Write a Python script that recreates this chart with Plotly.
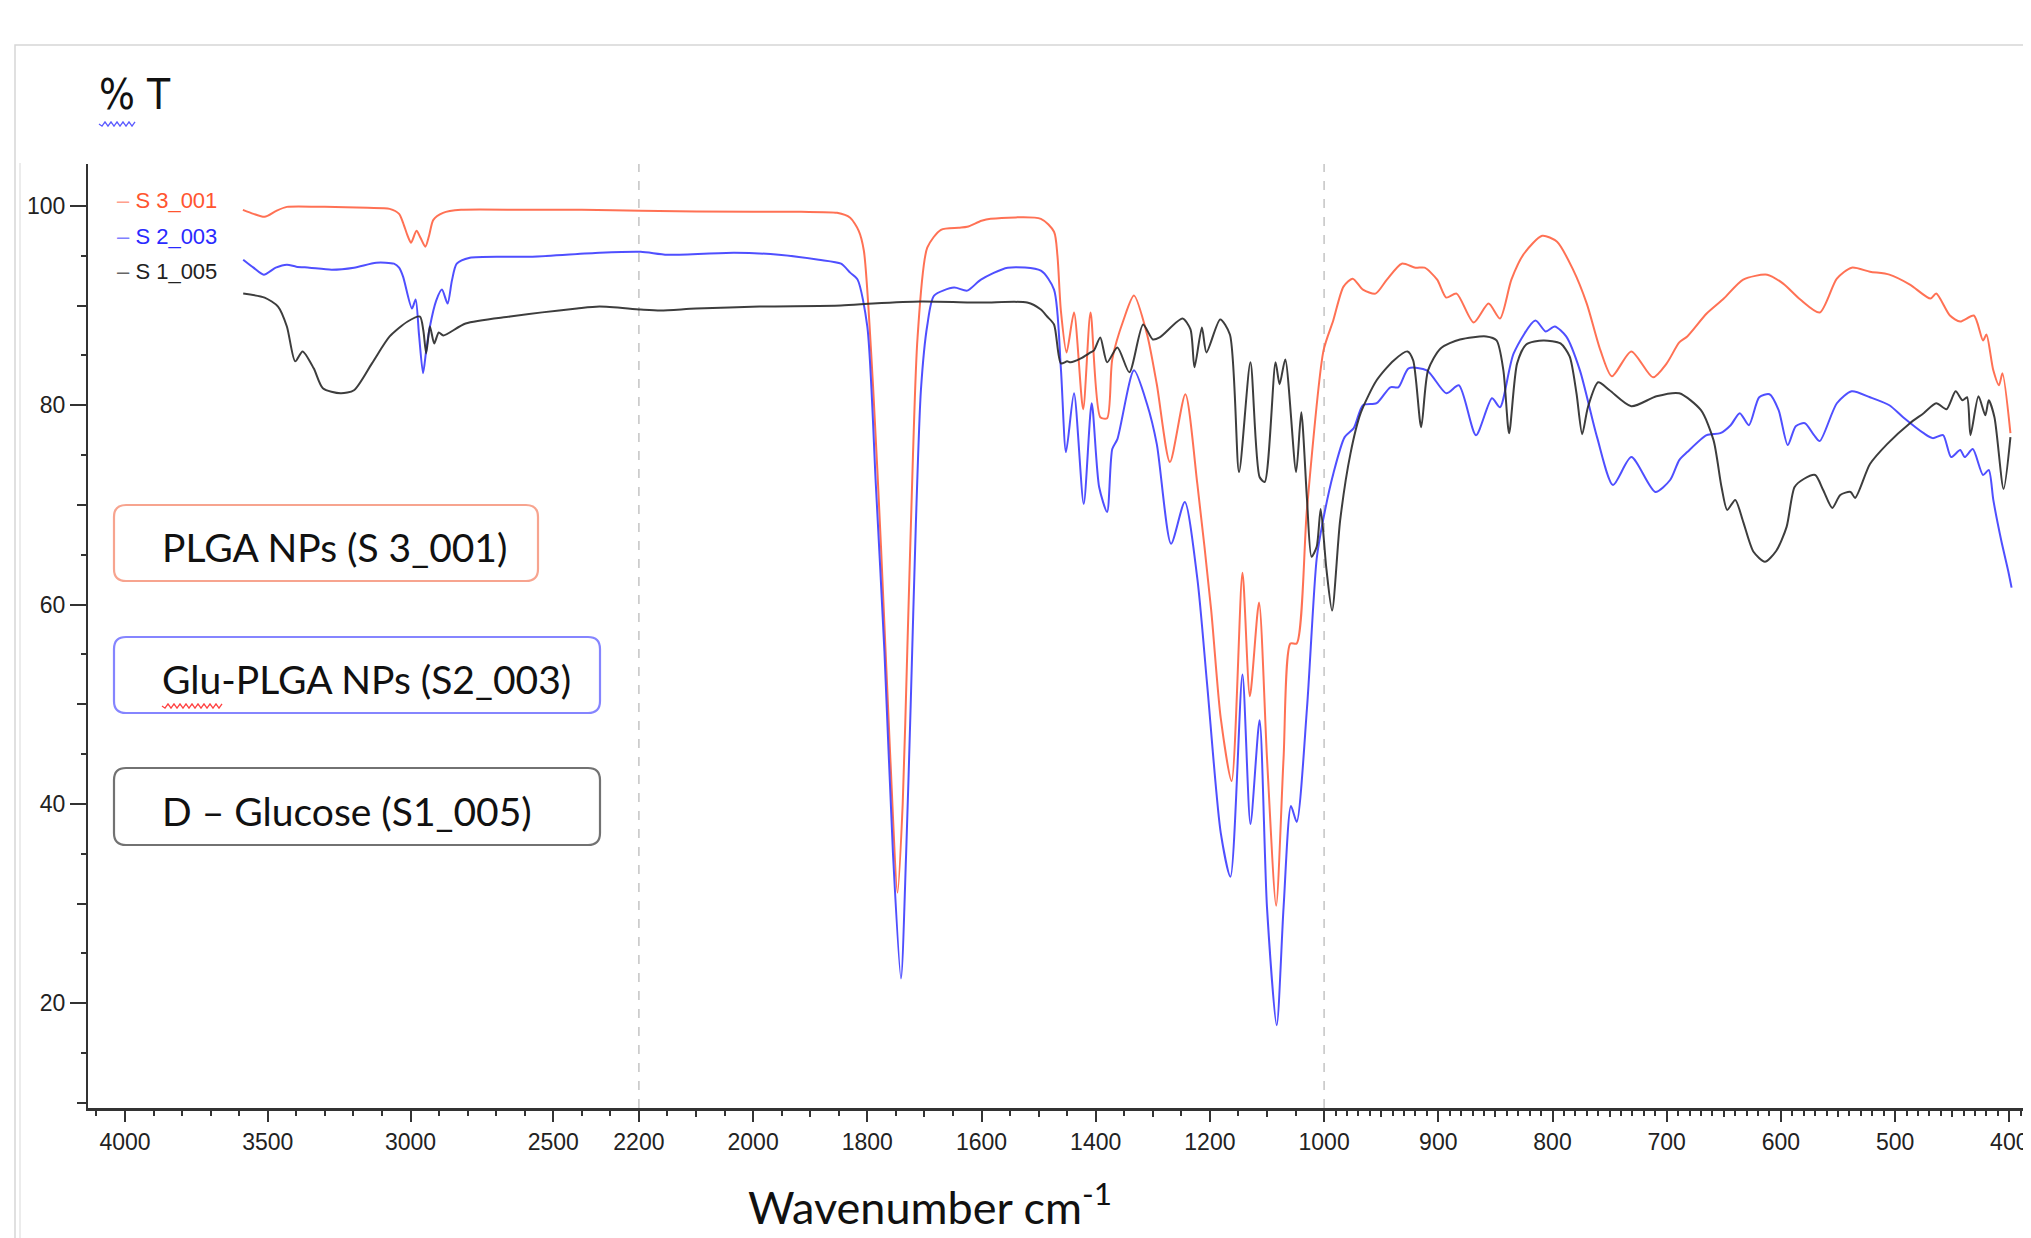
import numpy as np
import plotly.graph_objects as go

# ---------------- data ----------------
s3_wn = [3587, 3550, 3511, 3470, 3433, 3300, 3150, 3073, 3040, 3026, 3010, 2998, 2979, 2965, 2948, 2935,
         2920, 2886, 2823, 2600, 2400, 2197, 2000, 1916, 1853, 1830, 1815, 1806, 1790, 1776, 1760, 1747,
         1738, 1730, 1720, 1712, 1695, 1671, 1640, 1625, 1600, 1584, 1496, 1473, 1467, 1461, 1451, 1438,
         1422, 1409, 1392, 1380, 1371, 1351, 1333, 1310, 1293, 1270, 1243, 1222, 1198, 1181, 1162, 1143,
         1130, 1114, 1100, 1084, 1071, 1059, 1048, 1030, 1001, 992, 983, 975, 966, 955, 945, 932, 920, 912,
         901, 893, 884, 869, 856, 846, 836, 825, 809, 796, 782, 770, 758, 748, 731, 712, 700, 689, 682, 665,
         650, 633, 612, 598, 583, 566, 551, 538, 522, 505, 487, 469, 464, 452, 443, 431, 423, 420, 414, 409,
         406, 399]
s3_t = [99.6, 99.2, 98.9, 99.5, 99.9, 99.9, 99.8, 99.7, 99.2, 98.3, 97.0, 96.3, 97.5, 96.8, 95.9, 97.0,
        98.6, 99.3, 99.6, 99.6, 99.6, 99.5, 99.4, 99.4, 99.3, 98.8, 97.5, 95.5, 82.0, 65.8, 45.0, 31.1,
        40.0, 55.3, 75.0, 86.8, 95.8, 97.6, 97.8, 97.9, 98.5, 98.7, 98.7, 97.4, 95.0, 89.5, 85.3, 89.3,
        79.6, 89.3, 78.8, 78.7, 84.6, 88.6, 91.0, 87.1, 82.1, 74.3, 81.1, 72.1, 59.6, 48.6, 42.3, 63.2,
        50.8, 60.2, 44.6, 29.8, 44.6, 56.1, 56.1, 69.6, 85.5, 88.5, 91.9, 92.7, 91.6, 91.2, 92.6, 94.2, 93.8, 93.8,
        92.6, 90.8, 91.2, 88.3, 90.2, 88.7, 92.6, 95.2, 97.0, 96.4, 93.6, 90.2, 85.5, 82.9, 85.4, 82.8, 84.2, 86.3, 86.9, 89.2,
        90.7, 92.6, 93.1, 92.2, 90.6, 89.3, 92.7, 93.8, 93.4, 93.1, 92.1, 90.7, 91.2, 89.0, 88.4, 89.0, 86.5, 87.1, 83.5, 82.0,
        83.2, 77.2]

s2_wn = [3586, 3550, 3514, 3472, 3433, 3400, 3354, 3276, 3198, 3120, 3058, 3040, 3026, 2995, 2982, 2970,
         2956, 2945, 2932, 2910, 2890, 2870, 2855, 2838, 2792, 2573, 2338, 2197, 2150, 2033, 1955, 1885,
         1846, 1830, 1817, 1800, 1785, 1770, 1755, 1741, 1732, 1724, 1715, 1706, 1695, 1683, 1648, 1625,
         1601, 1554, 1496, 1473, 1461, 1452, 1438, 1421, 1407, 1394, 1380, 1371, 1362, 1333, 1310, 1293,
         1268, 1244, 1222, 1205, 1181, 1164, 1143, 1129, 1113, 1100, 1083, 1071, 1058, 1048, 1030, 1013,
         1002, 992, 982, 974, 966, 954, 942, 935, 926, 910, 893, 882, 867, 853, 846, 834, 815, 806, 798, 788,
         776, 761, 747, 731, 710, 697, 689, 682, 665, 653, 644, 636, 628, 619, 610, 602, 594, 587, 579, 571,
         566, 551, 538, 522, 505, 493, 475, 467, 458, 451, 443, 439, 432, 423, 418, 414, 407, 401, 398]
s2_t = [94.6, 93.8, 93.1, 93.8, 94.1, 93.9, 93.8, 93.6, 93.8, 94.3, 94.2, 93.8, 92.9, 89.7, 90.6, 87.0,
        83.2, 85.5, 87.9, 90.5, 91.6, 90.2, 92.5, 94.2, 94.8, 94.9, 95.3, 95.4, 95.1, 95.3, 95.1, 94.6,
        94.2, 93.3, 92.6, 87.9, 72.0, 55.3, 35.0, 22.5, 35.0, 50.0, 68.0, 81.6, 88.0, 91.0, 91.8, 91.5,
        92.6, 93.8, 93.5, 91.6, 83.7, 75.3, 81.2, 70.1, 80.2, 71.8, 69.3, 75.6, 76.6, 83.5, 80.1, 76.1,
        66.1, 70.3, 62.6, 52.1, 37.1, 32.7, 53.0, 38.0, 48.4, 29.6, 17.8, 29.6, 39.8, 38.2, 49.6, 64.6,
        68.4, 73.1, 76.8, 77.7, 80.0, 80.2, 81.8, 81.8, 83.7, 83.5, 81.2, 82.0, 77.0, 80.7, 79.8, 85.2, 88.5, 87.4, 87.9, 86.9,
        83.5, 76.8, 72.0, 74.8, 71.3, 72.5, 74.5, 75.3, 77.0, 77.2, 78.0, 79.2, 78.0, 80.8, 81.1, 79.5, 76.0, 77.9, 78.2, 77.0,
        76.4, 80.2, 81.4, 80.8, 80.0, 78.8, 77.2, 76.7, 77.0, 74.8, 75.5, 74.8, 75.6, 73.0, 73.5, 70.5, 66.4, 63.4, 61.7]

s1_wn = [3586, 3511, 3464, 3433, 3404, 3378, 3339, 3307, 3245, 3198, 3135, 3073, 3010, 2967, 2955, 2945,
         2932, 2917, 2901, 2885, 2807, 2651, 2417, 2338, 2197, 2162, 2100, 1989, 1846, 1790, 1706, 1600,
         1520, 1496, 1485, 1473, 1461, 1450, 1444, 1426, 1409, 1403, 1392, 1380, 1362, 1341, 1317, 1300,
         1288, 1248, 1234, 1227, 1214, 1206, 1182, 1165, 1149, 1129, 1113, 1104, 1085, 1078, 1068, 1049,
         1040, 1030, 1022, 1013, 1006, 998, 993, 986, 977, 968, 954, 939, 927, 922, 915, 909, 898, 881,
         858, 849, 843, 838, 831, 823, 808, 793, 785, 779, 774, 769, 760, 750, 731, 709, 689, 670, 659,
         652, 647, 640, 633, 624, 614, 604, 595, 588, 580, 570, 563, 555, 548, 539, 535, 522, 507, 487,
         475, 464, 455, 447, 441, 437, 434, 427, 421, 418, 413, 405, 399]
s1_t = [91.2, 90.8, 89.9, 87.9, 84.4, 85.4, 83.7, 81.7, 81.2, 81.5, 84.2, 86.9, 88.4, 88.9, 87.5, 85.2,
        87.9, 86.2, 87.3, 87.0, 88.2, 88.9, 89.7, 89.9, 89.6, 89.5, 89.7, 89.9, 90.0, 90.2, 90.4, 90.3,
        90.3, 89.6, 88.9, 88.1, 84.2, 84.4, 84.3, 84.7, 85.3, 85.5, 86.8, 84.3, 85.8, 83.3, 88.1, 86.6,
        86.8, 88.7, 87.6, 83.8, 87.8, 85.3, 88.6, 87.1, 73.3, 84.3, 72.8, 72.3, 84.3, 82.1, 84.6, 73.3,
        79.3, 70.6, 64.8, 65.8, 69.6, 63.6, 59.4, 68.4, 75.1, 79.2, 82.5, 84.5, 85.4, 84.5, 77.8, 83.5, 85.7, 86.6,
        86.9, 86.5, 83.5, 77.2, 84.2, 86.1, 86.5, 86.2, 84.9, 81.2, 77.1, 79.8, 82.3, 81.5, 79.9, 80.9, 81.2, 79.5, 76.5,
        71.8, 69.5, 70.5, 68.3, 65.3, 64.3, 65.4, 67.8, 71.8, 72.6, 73.0, 71.5, 69.7, 71.0, 71.3, 70.7, 74.1, 76.1, 78.2,
        79.2, 80.2, 79.6, 81.4, 80.5, 80.8, 77.0, 80.9, 79.0, 80.5, 78.8, 71.6, 76.8]

series_names = ["S 3_001", "S 2_003", "S 1_005"]
box_labels = ["PLGA NPs (S 3_001)", "Glu-PLGA NPs (S2_003)", "D \u2013 Glucose (S1_005)"]

x_label_ticks = [4000, 3500, 3000, 2500, 2200, 2000, 1800, 1600, 1400, 1200, 1000, 900, 800, 700, 600, 500, 400]
x_mid_ticks = [2100, 1900, 1700, 1500, 1300, 1100, 950, 850, 750, 650, 550, 450]
x_minor_ticks = ([w for w in range(4100, 2200, -100) if w not in (4000, 3500, 3000, 2500)]
                 + [w for w in range(2150, 1000, -100)]
                 + [w for w in range(990, 380, -10) if w % 50 != 0])
y_label_ticks = [20, 40, 60, 80, 100]
y_mid_ticks = [10, 30, 50, 70, 90]
y_minor_ticks = [15, 25, 35, 45, 55, 65, 75, 85, 95]

# ---------------- broken wavenumber scale ----------------
def u_of(w):
    w = np.asarray(w, dtype=float)
    return np.where(w >= 2200, 4000 - w,
                    np.where(w >= 1000, 1800 + 2 * (2200 - w), 4200 + 4 * (1000 - w)))

OFF = 8                       # page body margin
PAGE_W, PAGE_H = 2031, 1238
W, H = PAGE_W - OFF, PAGE_H - OFF
# plot area in page pixels: left 88, top 164, right 2031, bottom 1108
ML, MT = 88 - OFF, 164 - OFF
MR, MB = 0, PAGE_H - 1108
PWID, PHGT = W - ML - MR, H - MT - MB

def px(xp):                   # page px -> paper
    return (xp - OFF - ML) / PWID

def py(yp):
    return (H - MB - (yp - OFF)) / PHGT

TICKF = "Liberation Sans, Arial, sans-serif"
NARROW = "DejaVu Sans Condensed, Liberation Sans Narrow, Liberation Sans, sans-serif"
CAL = "Lato, Open Sans, sans-serif"

colors = ["rgba(255,105,75,0.95)", "rgba(70,70,255,0.95)", "rgba(40,40,40,0.9)"]
label_colors = ["#ff5530", "#2a2aff", "#222222"]
dash_colors = ["#ffa08c", "#8080ff", "#666666"]

fig = go.Figure()
for wn, t, c, n in [(s3_wn, s3_t, colors[0], series_names[0]),
                    (s2_wn, s2_t, colors[1], series_names[1]),
                    (s1_wn, s1_t, colors[2], series_names[2])]:
    fig.add_trace(go.Scatter(x=u_of(wn), y=t, mode="lines", name=n,
                             line=dict(color=c, width=2, shape="spline", smoothing=0.7),
                             showlegend=False))
# carrier for the overlay axes holding the mid-length ticks
fig.add_trace(go.Scatter(x=[None], y=[None], xaxis="x2", yaxis="y2", mode="lines", showlegend=False))

xr = [(88 - 125) / 0.2855, (PAGE_W - 125) / 0.2855]
yr = [9.5, 104.2]

fig.update_layout(
    width=W, height=H, margin=dict(l=ML, r=MR, t=MT, b=MB),
    paper_bgcolor="white", plot_bgcolor="white",
    xaxis=dict(range=xr, tickvals=u_of(x_label_ticks), ticktext=[str(v) for v in x_label_ticks],
               ticks="outside", ticklen=11, tickwidth=2, tickcolor="#333",
               showline=True, linecolor="#333", linewidth=3, showgrid=False, zeroline=False,
               tickfont=dict(family=TICKF, size=23, color="#222"),
               minor=dict(tickvals=u_of(x_minor_ticks), ticks="outside", ticklen=5, tickwidth=1.5,
                          tickcolor="#333", showgrid=False)),
    yaxis=dict(range=yr, tickvals=y_label_ticks, ticks="outside", ticklen=16, tickwidth=2, tickcolor="#333",
               showline=True, linecolor="#333", linewidth=2, showgrid=False, zeroline=False,
               tickfont=dict(family=TICKF, size=23, color="#222"),
               minor=dict(tickvals=y_minor_ticks, ticks="outside", ticklen=5, tickwidth=1.5,
                          tickcolor="#333", showgrid=False)),
    xaxis2=dict(range=xr, overlaying="x", anchor="y2", side="bottom", tickvals=u_of(x_mid_ticks),
                ticks="outside", ticklen=8, tickwidth=2, tickcolor="#333", showticklabels=False,
                showline=False, showgrid=False, zeroline=False),
    yaxis2=dict(range=yr, overlaying="y", anchor="x2", side="left", tickvals=y_mid_ticks,
                ticks="outside", ticklen=10, tickwidth=2, tickcolor="#333", showticklabels=False,
                showline=False, showgrid=False, zeroline=False),
)

shapes = []
# dashed separators at the scale breaks
for w in (2200, 1000):
    shapes.append(dict(type="line", xref="x", yref="paper", x0=float(u_of(w)), x1=float(u_of(w)),
                       y0=0, y1=1, line=dict(color="#c4c4c4", width=1.5, dash="dash"), layer="below"))
# outer light frame of the screenshot
shapes.append(dict(type="rect", xref="paper", yref="paper", x0=px(15), x1=px(2045), y0=py(45), y1=py(1250),
                   line=dict(color="#d6d6d6", width=1.5)))
shapes.append(dict(type="line", xref="paper", yref="paper", x0=px(20), x1=px(20), y0=py(163), y1=py(1250),
                   line=dict(color="#e6e6e6", width=1.5)))

def rrect(x0, y0, x1, y1, r):
    pts = [("M", x0 + r, y0), ("L", x1 - r, y0), ("Q", x1, y0, x1, y0 + r), ("L", x1, y1 - r),
           ("Q", x1, y1, x1 - r, y1), ("L", x0 + r, y1), ("Q", x0, y1, x0, y1 - r), ("L", x0, y0 + r),
           ("Q", x0, y0, x0 + r, y0)]
    s = ""
    for p in pts:
        if p[0] == "Q":
            s += "Q%.5f,%.5f %.5f,%.5f " % (px(p[1]), py(p[2]), px(p[3]), py(p[4]))
        else:
            s += "%s%.5f,%.5f " % (p[0], px(p[1]), py(p[2]))
    return s + "Z"

boxes = [(114, 505, 538, 581, "#f7a48f"), (114, 637, 600, 713, "#8585ff"), (114, 768, 600, 845, "#727272")]
for (x0, y0, x1, y1, c) in boxes:
    shapes.append(dict(type="path", xref="paper", yref="paper", path=rrect(x0, y0, x1, y1, 12),
                       line=dict(color=c, width=2.2), fillcolor="white"))

def squiggle(x0, x1, yc, amp, step):
    s = "M%.5f,%.5f " % (px(x0), py(yc))
    k = 0
    x = x0
    while x < x1:
        x += step
        k += 1
        s += "L%.5f,%.5f " % (px(x), py(yc + (amp if k % 2 else -amp)))
    return s

shapes.append(dict(type="path", xref="paper", yref="paper", path=squiggle(99, 135, 124, 2.2, 3),
                   line=dict(color="#5a5aff", width=1.3)))
shapes.append(dict(type="path", xref="paper", yref="paper", path=squiggle(162, 222, 706, 2.2, 3),
                   line=dict(color="#ff4040", width=1.3)))
fig.update_layout(shapes=shapes)

ann = []
ann.append(dict(text="% T", xref="paper", yref="paper", x=px(97), y=py(95), xanchor="left", yanchor="middle",
                showarrow=False, font=dict(family=NARROW, size=42, color="#111")))
for i, yc in enumerate([201, 237, 271]):
    ann.append(dict(text="<span style='color:%s'>\u2013</span> <span style='color:%s'>%s</span>"
                    % (dash_colors[i], label_colors[i], series_names[i]),
                    xref="paper", yref="paper", x=px(115), y=py(yc), xanchor="left", yanchor="middle",
                    showarrow=False, font=dict(family=TICKF, size=22)))
for (x0, y0, x1, y1, c), lab in zip(boxes, box_labels):
    ann.append(dict(text=lab, xref="paper", yref="paper", x=px(160), y=py((y0 + y1) / 2 + 4),
                    xanchor="left", yanchor="middle", showarrow=False,
                    font=dict(family=CAL, size=39, color="#111")))
ann.append(dict(text="Wavenumber cm<sup>-1</sup>", xref="paper", yref="paper", x=px(746), y=py(1236),
                xanchor="left", yanchor="bottom", showarrow=False,
                font=dict(family=CAL, size=45, color="#111")))
fig.update_layout(annotations=ann)

fig.write_html("out.html")
